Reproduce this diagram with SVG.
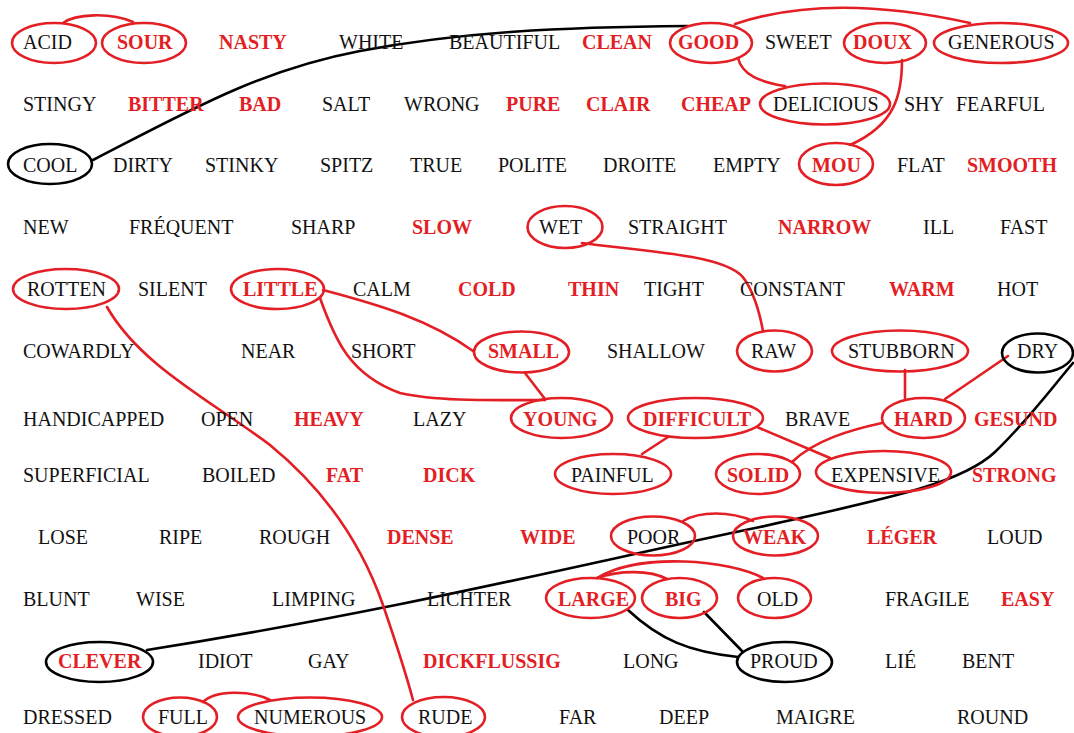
<svg xmlns="http://www.w3.org/2000/svg" width="1074" height="733" viewBox="0 0 1074 733">
<style>
text{font-size:20px;fill:#111}
text.r{fill:#e31e24;font-weight:bold}
ellipse{fill:none;stroke:#e31e24;stroke-width:2.6}
ellipse.k{stroke:#000}
#connectors path{fill:none;stroke-width:2.6;stroke-linecap:round}
#connectors .rl{stroke:#e31e24}
#connectors .bl{stroke:#000}
</style>
<rect width="1074" height="733" fill="#fff"/>
<g id="connectors">
<path class="bl" d="M93,160 C190,110 260,70 360,51 S560,27 688,26"/>
<path class="bl" d="M147,650 C400,610 600,560 760,527 C880,500 960,485 995,452 C1030,418 1050,390 1073,363"/>
<path class="bl" d="M628,610 C660,640 690,652 738,657"/>
<path class="bl" d="M704,612 L742,651"/>
<path class="rl" d="M63,23 C75,14 110,12 133,22"/>
<path class="rl" d="M735,24 Q830,-8 970,23"/>
<path class="rl" d="M738,58 C742,75 760,82 785,86"/>
<path class="rl" d="M902,60 C902,95 895,125 850,145"/>
<path class="rl" d="M582,243 C650,252 730,255 745,280 C755,295 760,315 763,331"/>
<path class="rl" d="M107,307 C140,365 210,400 270,445 C325,490 362,545 383,605 C395,640 405,670 413,700"/>
<path class="rl" d="M323,290 C380,305 430,320 473,351"/>
<path class="rl" d="M320,298 C335,340 350,375 400,393 C440,402 500,400 545,400"/>
<path class="rl" d="M525,373 L545,399"/>
<path class="rl" d="M668,437 L642,454"/>
<path class="rl" d="M757,427 L830,458"/>
<path class="rl" d="M905,370 L905,398"/>
<path class="rl" d="M945,399 L1008,356"/>
<path class="rl" d="M882,423 C850,430 815,440 792,462"/>
<path class="rl" d="M683,521 C700,511 730,511 753,521"/>
<path class="rl" d="M667,579 C650,570 620,570 597,578"/>
<path class="rl" d="M763,578 C730,560 640,552 597,578"/>
<path class="rl" d="M203,702 C215,690 250,690 270,700"/>
</g>
<g font-family="Liberation Serif">
<g id="n-acid"><ellipse cx="54" cy="43" rx="42" ry="20"/><text x="23" y="49">ACID</text></g>
<g id="n-sour"><ellipse cx="144" cy="43" rx="42" ry="20"/><text class="r" x="117" y="49">SOUR</text></g>
<g id="n-nasty"><text class="r" x="219" y="49">NASTY</text></g>
<g id="n-white"><text x="339" y="49">WHITE</text></g>
<g id="n-beautiful"><text x="449" y="49">BEAUTIFUL</text></g>
<g id="n-clean"><text class="r" x="582" y="49">CLEAN</text></g>
<g id="n-good"><ellipse cx="711" cy="43" rx="41" ry="20"/><text class="r" x="678" y="49">GOOD</text></g>
<g id="n-sweet"><text x="765" y="49">SWEET</text></g>
<g id="n-doux"><ellipse cx="885" cy="43" rx="41" ry="20"/><text class="r" x="853" y="49">DOUX</text></g>
<g id="n-generous"><ellipse cx="1001" cy="43" rx="67" ry="20"/><text x="948" y="49">GENEROUS</text></g>

<g id="n-stingy"><text x="23" y="111">STINGY</text></g>
<g id="n-bitter"><text class="r" x="128" y="111">BITTER</text></g>
<g id="n-bad"><text class="r" x="239" y="111">BAD</text></g>
<g id="n-salt"><text x="322" y="111">SALT</text></g>
<g id="n-wrong"><text x="404" y="111">WRONG</text></g>
<g id="n-pure"><text class="r" x="506" y="111">PURE</text></g>
<g id="n-clair"><text class="r" x="586" y="111">CLAIR</text></g>
<g id="n-cheap"><text class="r" x="681" y="111">CHEAP</text></g>
<g id="n-delicious"><ellipse cx="825" cy="104" rx="65" ry="20.5"/><text x="773" y="111">DELICIOUS</text></g>
<g id="n-shy"><text x="904" y="111">SHY</text></g>
<g id="n-fearful"><text x="956" y="111">FEARFUL</text></g>

<g id="n-cool"><ellipse class="k" cx="50" cy="164" rx="42" ry="20"/><text x="23" y="172">COOL</text></g>
<g id="n-dirty"><text x="113" y="172">DIRTY</text></g>
<g id="n-stinky"><text x="205" y="172">STINKY</text></g>
<g id="n-spitz"><text x="320" y="172">SPITZ</text></g>
<g id="n-true"><text x="410" y="172">TRUE</text></g>
<g id="n-polite"><text x="498" y="172">POLITE</text></g>
<g id="n-droite"><text x="603" y="172">DROITE</text></g>
<g id="n-empty"><text x="713" y="172">EMPTY</text></g>
<g id="n-mou"><ellipse cx="836" cy="164" rx="37" ry="21"/><text class="r" x="812" y="172">MOU</text></g>
<g id="n-flat"><text x="897" y="172">FLAT</text></g>
<g id="n-smooth"><text class="r" x="967" y="172">SMOOTH</text></g>

<g id="n-new"><text x="23" y="234">NEW</text></g>
<g id="n-frequent"><text x="129" y="234">FRÉQUENT</text></g>
<g id="n-sharp"><text x="291" y="234">SHARP</text></g>
<g id="n-slow"><text class="r" x="412" y="234">SLOW</text></g>
<g id="n-wet"><ellipse cx="565" cy="227" rx="37.5" ry="21"/><text x="539" y="234">WET</text></g>
<g id="n-straight"><text x="628" y="234">STRAIGHT</text></g>
<g id="n-narrow"><text class="r" x="778" y="234">NARROW</text></g>
<g id="n-ill"><text x="923" y="234">ILL</text></g>
<g id="n-fast"><text x="1000" y="234">FAST</text></g>

<g id="n-rotten"><ellipse cx="66" cy="289" rx="53" ry="20"/><text x="27" y="296">ROTTEN</text></g>
<g id="n-silent"><text x="138" y="296">SILENT</text></g>
<g id="n-little"><ellipse cx="277.5" cy="289" rx="46.5" ry="20"/><text class="r" x="243" y="296">LITTLE</text></g>
<g id="n-calm"><text x="353" y="296">CALM</text></g>
<g id="n-cold"><text class="r" x="458" y="296">COLD</text></g>
<g id="n-thin"><text class="r" x="568" y="296">THIN</text></g>
<g id="n-tight"><text x="644" y="296">TIGHT</text></g>
<g id="n-constant"><text x="740" y="296">CONSTANT</text></g>
<g id="n-warm"><text class="r" x="889" y="296">WARM</text></g>
<g id="n-hot"><text x="997" y="296">HOT</text></g>

<g id="n-cowardly"><text x="23" y="358">COWARDLY</text></g>
<g id="n-near"><text x="241" y="358">NEAR</text></g>
<g id="n-short"><text x="351" y="358">SHORT</text></g>
<g id="n-small"><ellipse cx="521.5" cy="352" rx="47.5" ry="20.5"/><text class="r" x="488" y="358">SMALL</text></g>
<g id="n-shallow"><text x="607" y="358">SHALLOW</text></g>
<g id="n-raw"><ellipse cx="774.5" cy="351" rx="37.5" ry="20.5"/><text x="751" y="358">RAW</text></g>
<g id="n-stubborn"><ellipse cx="900" cy="351" rx="68" ry="20.5"/><text x="848" y="358">STUBBORN</text></g>
<g id="n-dry"><ellipse class="k" cx="1037.5" cy="353" rx="35.5" ry="19.5"/><text x="1017" y="358">DRY</text></g>

<g id="n-handicapped"><text x="23" y="426">HANDICAPPED</text></g>
<g id="n-open"><text x="201" y="426">OPEN</text></g>
<g id="n-heavy"><text class="r" x="294" y="426">HEAVY</text></g>
<g id="n-lazy"><text x="413" y="426">LAZY</text></g>
<g id="n-young"><ellipse cx="561.5" cy="418" rx="50.5" ry="20"/><text class="r" x="523" y="426">YOUNG</text></g>
<g id="n-difficult"><ellipse cx="695.5" cy="418" rx="67.5" ry="20"/><text class="r" x="643" y="426">DIFFICULT</text></g>
<g id="n-brave"><text x="785" y="426">BRAVE</text></g>
<g id="n-hard"><ellipse cx="923.5" cy="418" rx="41.5" ry="20"/><text class="r" x="894" y="426">HARD</text></g>
<g id="n-gesund"><text class="r" x="974" y="426">GESUND</text></g>

<g id="n-superficial"><text x="23" y="482">SUPERFICIAL</text></g>
<g id="n-boiled"><text x="202" y="482">BOILED</text></g>
<g id="n-fat"><text class="r" x="326" y="482">FAT</text></g>
<g id="n-dick"><text class="r" x="423" y="482">DICK</text></g>
<g id="n-painful"><ellipse cx="613" cy="474" rx="58" ry="20"/><text x="571" y="482">PAINFUL</text></g>
<g id="n-solid"><ellipse cx="758" cy="474" rx="42" ry="20"/><text class="r" x="727" y="482">SOLID</text></g>
<g id="n-expensive"><ellipse cx="883.5" cy="472" rx="67.5" ry="21"/><text x="831" y="482">EXPENSIVE</text></g>
<g id="n-strong"><text class="r" x="972" y="482">STRONG</text></g>

<g id="n-lose"><text x="38" y="544">LOSE</text></g>
<g id="n-ripe"><text x="159" y="544">RIPE</text></g>
<g id="n-rough"><text x="259" y="544">ROUGH</text></g>
<g id="n-dense"><text class="r" x="387" y="544">DENSE</text></g>
<g id="n-wide"><text class="r" x="520" y="544">WIDE</text></g>
<g id="n-poor"><ellipse cx="653" cy="536" rx="42" ry="19.5"/><text x="627" y="544">POOR</text></g>
<g id="n-weak"><ellipse cx="775.5" cy="536" rx="42.5" ry="19.5"/><text class="r" x="743" y="544">WEAK</text></g>
<g id="n-leger"><text class="r" x="867" y="544">LÉGER</text></g>
<g id="n-loud"><text x="987" y="544">LOUD</text></g>

<g id="n-blunt"><text x="23" y="606">BLUNT</text></g>
<g id="n-wise"><text x="136" y="606">WISE</text></g>
<g id="n-limping"><text x="272" y="606">LIMPING</text></g>
<g id="n-lichter"><text x="427" y="606">LICHTER</text></g>
<g id="n-large"><ellipse cx="590.5" cy="598" rx="44.5" ry="20"/><text class="r" x="558" y="606">LARGE</text></g>
<g id="n-big"><ellipse cx="679.5" cy="598" rx="37.5" ry="20"/><text class="r" x="665" y="606">BIG</text></g>
<g id="n-old"><ellipse cx="774.5" cy="598" rx="36.5" ry="20"/><text x="757" y="606">OLD</text></g>
<g id="n-fragile"><text x="885" y="606">FRAGILE</text></g>
<g id="n-easy"><text class="r" x="1001" y="606">EASY</text></g>

<g id="n-clever"><ellipse class="k" cx="99.5" cy="662" rx="53.5" ry="20"/><text class="r" x="58" y="668">CLEVER</text></g>
<g id="n-idiot"><text x="198" y="668">IDIOT</text></g>
<g id="n-gay"><text x="308" y="668">GAY</text></g>
<g id="n-dickflussig"><text class="r" x="423" y="668">DICKFLUSSIG</text></g>
<g id="n-long"><text x="623" y="668">LONG</text></g>
<g id="n-proud"><ellipse class="k" cx="784.5" cy="662" rx="47.5" ry="20"/><text x="750" y="668">PROUD</text></g>
<g id="n-lie"><text x="885" y="668">LIÉ</text></g>
<g id="n-bent"><text x="962" y="668">BENT</text></g>

<g id="n-dressed"><text x="23" y="724">DRESSED</text></g>
<g id="n-full"><ellipse cx="180" cy="717" rx="37" ry="19.5"/><text x="158" y="724">FULL</text></g>
<g id="n-numerous"><ellipse cx="310" cy="717" rx="72" ry="19.5"/><text x="254" y="724">NUMEROUS</text></g>
<g id="n-rude"><ellipse cx="443.5" cy="717" rx="41.5" ry="20"/><text x="418" y="724">RUDE</text></g>
<g id="n-far"><text x="559" y="724">FAR</text></g>
<g id="n-deep"><text x="659" y="724">DEEP</text></g>
<g id="n-maigre"><text x="776" y="724">MAIGRE</text></g>
<g id="n-round"><text x="957" y="724">ROUND</text></g>
</g>
</svg>
